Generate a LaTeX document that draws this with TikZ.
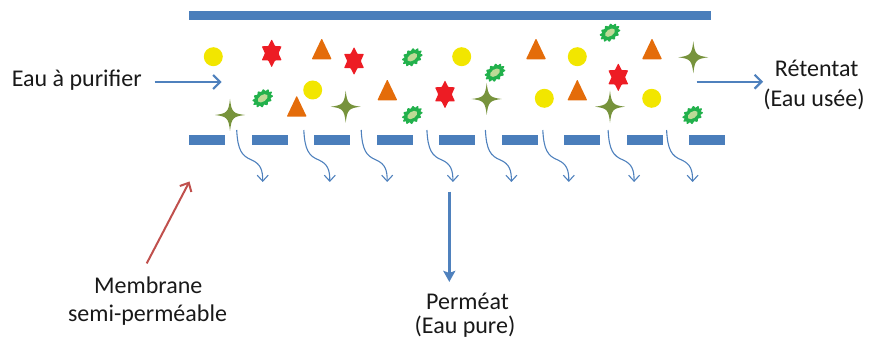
\documentclass[tikz,border=0pt]{standalone}
\usepackage{fontspec}
\setmainfont{Carlito}
\usetikzlibrary{shapes.geometric, arrows.meta, calc}

\definecolor{barblue}{RGB}{74,126,187}
\definecolor{flowblue}{RGB}{79,129,189}
\definecolor{pointred}{RGB}{192,80,77}
\definecolor{dotyellow}{RGB}{242,230,0}
\definecolor{starred}{RGB}{237,28,36}
\definecolor{triorange}{RGB}{228,108,10}
\definecolor{blobgreen}{RGB}{34,177,76}
\definecolor{blobcore}{RGB}{190,218,150}
\definecolor{sparkgreen}{RGB}{119,147,60}
\definecolor{txt}{RGB}{25,25,25}

\begin{document}
\begin{tikzpicture}[x=1pt, y=-1pt,
  lbl/.style={font=\fontsize{24}{28}\selectfont, text=txt, inner sep=0pt},
  dot/.style={circle, fill=dotyellow, minimum size=19pt, inner sep=0pt},
  bar/.style={fill=barblue},
  seep/.style={draw=flowblue, line width=1.1pt, -{Straight Barb[length=6pt,width=11pt]}},
  flow/.style={draw=flowblue, line width=2.2pt, -{Straight Barb[length=7pt,width=14pt]}},
  bigflow/.style={draw=flowblue, line width=3pt, -{Stealth[length=11pt,width=12pt,inset=2pt]}},
  pointer/.style={draw=pointred, line width=2pt, -{Straight Barb[length=7pt,width=13pt]}},
  redstar/.pic={
    \fill[starred, xscale=0.82, rounded corners=0.6pt]
      (90:14) -- (120:8.3) -- (150:14) -- (180:8.3) -- (210:14) -- (240:8.3) --
      (270:14) -- (300:8.3) -- (330:14) -- (0:8.3) -- (30:14) -- (60:8.3) -- cycle;
  },
  pyramid/.pic={
    \fill[triorange, rounded corners=0.8pt] (0,-11) -- (10,10) -- (-10,10) -- cycle;
  },
  sparkle/.pic={
    \fill[sparkgreen] (15,0) .. controls (3,1.5) and (1.5,3) .. (0,16)
      .. controls (-1.5,3) and (-3,1.5) .. (-15,0)
      .. controls (-3,-1.5) and (-1.5,-3) .. (0,-16)
      .. controls (1.5,-3) and (3,-1.5) .. (15,0) -- cycle;
  },
  blob/.pic={
    \begin{scope}[rotate=35]
      \fill[blobgreen] plot[variable=\t, domain=0:360, samples=121]
        ({(10.2+1.0*cos(12*\t))*cos(\t)}, {(7.2+0.9*cos(12*\t))*sin(\t)}) -- cycle;
      \fill[blobcore] (0,0) ellipse (5.6 and 3.3);
    \end{scope}
  }
]
\useasboundingbox (0,0) rectangle (872,344);

% channel wall and membrane
\fill[bar] (189,11) rectangle (711,20);
\foreach \k in {0,...,8}
  \fill[bar] ({189+62.53*\k},135.5) rectangle ++(36,9.5);

% water seeping through the membrane
\foreach \s in {236.7,303.8,361.2,426.9,485.4,542.8,608.1,666.6}
  \draw[seep] (\s,130) .. controls (\s+1,150) and (\s+5,156) .. (\s+15,160)
    .. controls (\s+24,164) and (\s+26,170) .. (\s+26,182);

% particles in the feed water
\foreach \x/\y [count=\i] in {213.3/56.7, 312.7/90, 461.7/56.7, 544.3/98.3, 577.3/56.7, 651.7/98.3}
  \node[dot] (grain\i) at (\x,\y) {};
\foreach \x/\y in {271.7/53.3, 354/61, 445/94.3, 618.3/77.3}
  \pic at (\x,\y) {redstar};
\foreach \x/\y in {321.7/49.3, 296.7/106.7, 387.3/90.3, 536/49.3, 577.3/90.5, 652/49.3}
  \pic at (\x,\y) {pyramid};
\foreach \x/\y in {262.7/98.3, 412.3/57.3, 412.3/115, 495/72.7, 610/32.7, 692.7/115}
  \pic at (\x,\y) {blob};
\foreach \x/\y in {230/115, 345.7/106.7, 486.7/99, 610/106.7, 693.3/57.3}
  \pic at (\x,\y) {sparkle};

% labels
\node[lbl, anchor=base west] (feed) at (11.7,86.7) {Eau à purifier};
\node[lbl, anchor=base] (ret1) at (816.7,76.7) {Rétentat};
\node[lbl, anchor=base] (ret2) at (814,106.7) {(Eau usée)};
\node[lbl, anchor=base] (mem1) at (148.3,293.3) {Membrane};
\node[lbl, anchor=base] (mem2) at (147.5,321.7) {semi-perméable};
\node[lbl, anchor=base] (perm1) at (467.5,310) {Perméat};
\node[lbl, anchor=base] (perm2) at (465,333.3) {(Eau pure)};

% flows
\coordinate (inlet) at (221.7,82);
\draw[flow, shorten <=12.7pt] (feed.east |- inlet) -- (inlet);
\coordinate (outlet) at (696.7,81.7);
\draw[flow, shorten >=11.6pt] (outlet) -- (outlet -| ret1.west);
\coordinate (drain) at (449.3,191.7);
\draw[bigflow, shorten >=11.5pt] (drain) -- (drain |- perm1.north);
\coordinate (membtip) at (189.5,181.5);
\draw[pointer] ($(mem1.north)+(-1.6,-13)$) -- (membtip);
\end{tikzpicture}
\end{document}
